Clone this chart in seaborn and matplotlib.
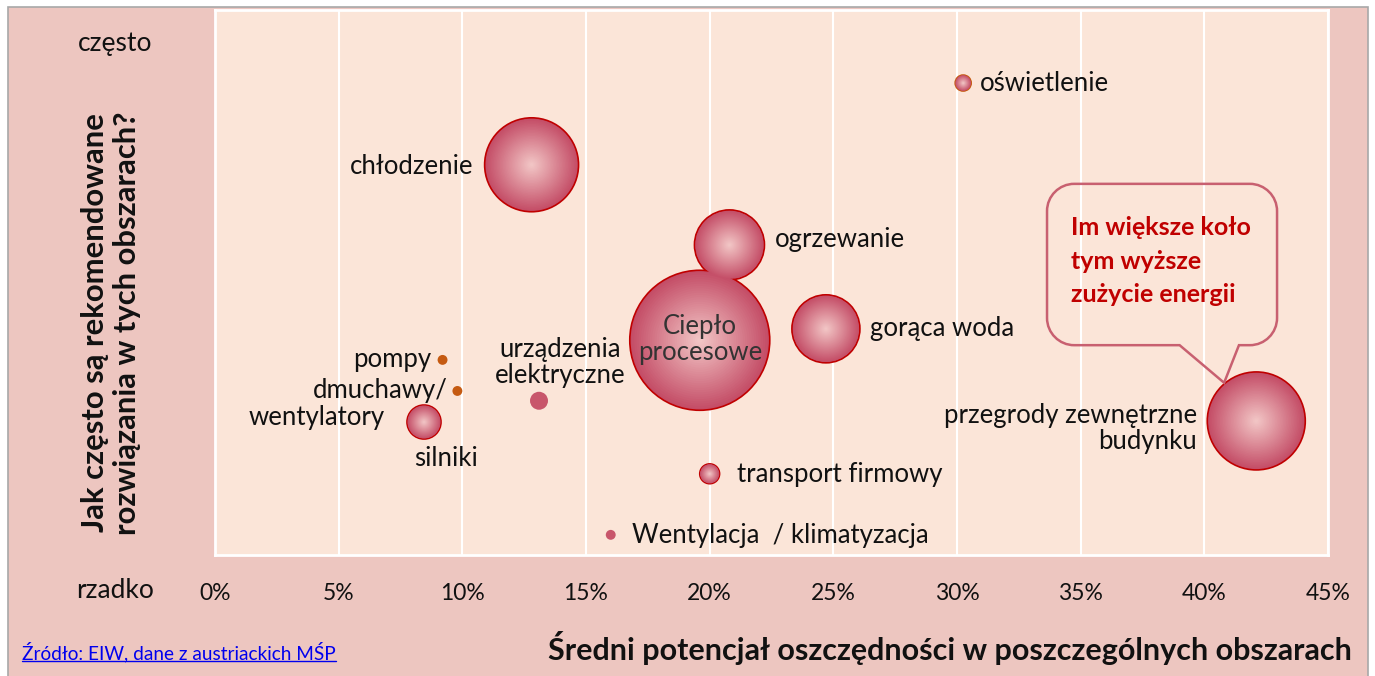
import numpy as np
import matplotlib.pyplot as plt
import seaborn as sns
from matplotlib.patches import Rectangle, PathPatch
from matplotlib.path import Path
from matplotlib.lines import Line2D
from matplotlib.colors import to_rgb

# ── DATA ────────────────────────────────────────────────────
obszary = ["oświetlenie", "chłodzenie", "ogrzewanie", "Ciepło\nprocesowe",
           "gorąca woda", "przegrody zewnętrzne\nbudynku", "pompy",
           "dmuchawy/\nwentylatory", "silniki", "urządzenia\nelektryczne",
           "transport firmowy", "Wentylacja  / klimatyzacja"]
potencjal = [30.25, 12.8, 20.8, 19.6, 24.7, 42.1, 9.2, 9.8, 8.45, 13.1, 20.0, 16.0]   # % oszczędności
czestosc  = [86.6, 71.6, 56.9, 39.4, 41.5, 24.6, 35.8, 30.1, 24.4, 28.3, 14.9, 3.7]   # 0 = rzadko, 100 = często
zuzycie   = [1.3, 45.0, 25.0, 100.0, 23.6, 49.0, 0.5, 0.5, 5.9, 1.65, 2.0, 0.5]      # względne zużycie energii
styl      = ["grad_o", "grad", "grad", "grad", "grad", "grad", "orange",
             "orange", "grad", "flat", "grad", "flat"]

x_ticks = [0, 5, 10, 15, 20, 25, 30, 35, 40, 45]

# ── THEME ──────────────────────────────────────────────────
sns.set_theme(style="white")
plt.rcParams["font.family"] = ["Lato", "DejaVu Sans"]

OUTER   = "#EDC6C0"
INNER   = "#FBE5D8"
RIM     = "#C44C66"
CENTER  = "#F3C9C8"
DARKRED = "#C00000"
ORANGE  = "#C55A11"
TXT     = "#111111"
LAB_FS  = 18.5

W, H = 1375, 676
fig = plt.figure(figsize=(W / 100, H / 100), dpi=100)
fig.patch.set_facecolor("white")
fig.add_artist(Rectangle((8 / W, -0.01), 1360 / W, 1 - 7 / H + 0.01,
                         transform=fig.transFigure, facecolor=OUTER,
                         edgecolor="#A8A8A8", linewidth=1.2, zorder=0))

ax = fig.add_axes([215 / W, 1 - 555 / H, 1113 / W, 545 / H])
ax.set_facecolor(INNER)
ax.set_xlim(0, 45)
ax.set_ylim(0, 100)
ax.set_xticks(x_ticks)
ax.set_xticklabels([f"{t}%" for t in x_ticks], fontsize=16.5, color=TXT)
ax.set_yticks([])
ax.tick_params(axis="x", direction="out", length=7, width=1.5, color="white", pad=13)
ax.grid(axis="x", color="white", linewidth=1.5)
ax.set_axisbelow(True)
for s in ax.spines.values():
    s.set_color("white")
    s.set_linewidth(2)

# bubble area ~ energy use; 100 -> radius 70 px
SMAX = (2 * 70 * 72 / 100) ** 2

p = np.array(potencjal)
c = np.array(czestosc)
z = np.array(zuzycie)
st = np.array(styl)

# flat bubbles
for key, col in [("orange", ORANGE), ("flat", "#C8566B")]:
    m = st == key
    sns.scatterplot(x=p[m], y=c[m], size=z[m], sizes=(0, SMAX), size_norm=(0, 100),
                    color=col, edgecolor="none", legend=False, ax=ax, zorder=3)

# gradient bubbles: rim with edge, then lighter rings toward centre
g = np.isin(st, ["grad", "grad_o"])
edges = [ORANGE if s == "grad_o" else DARKRED for s in st[g]]
rim, cen = np.array(to_rgb(RIM)), np.array(to_rgb(CENTER))
sns.scatterplot(x=p[g], y=c[g], size=z[g], sizes=(0, SMAX), size_norm=(0, 100),
                color=RIM, edgecolor=edges, linewidth=1.2, legend=False, ax=ax, zorder=3)
for f in np.linspace(0.97, 0.04, 30):
    col = cen + (rim - cen) * f
    sns.scatterplot(x=p[g], y=c[g], size=z[g], sizes=(0, SMAX * f * f), size_norm=(0, 100),
                    color=col, edgecolor="none", linewidth=0, legend=False, ax=ax, zorder=3)

# labels: (dx px, dy px, ha)
lab_pos = {
    0: (17, 0, "left"), 1: (-58, -2, "right"), 2: (45, 5, "left"),
    3: (0, 1, "center"), 4: (44, 0, "left"), 5: (-59, -8, "right"),
    6: (-11, 0, "right"), 8: (22, -36, "center"), 9: (21, 38, "center"),
    10: (27, -1, "left"), 11: (21, -1, "left"),
}
for i, (dx, dy, ha) in lab_pos.items():
    ax.annotate(obszary[i], (p[i], c[i]), textcoords="offset pixels",
                xytext=(dx, dy), ha=ha, va="center", fontsize=LAB_FS,
                color="#333333" if i == 3 else TXT,
                linespacing=1.05, zorder=5,
                multialignment="center" if ha == "center" else ha)
# dmuchawy/ wentylatory is broken over two uneven lines
l1, l2 = obszary[7].split("\n")
ax.annotate(l1, (p[7], c[7]), textcoords="offset pixels", xytext=(-10, 0),
            ha="right", va="center", fontsize=LAB_FS, color=TXT, zorder=5)
ax.annotate(l2, (p[7], c[7]), textcoords="offset pixels", xytext=(-73, -27),
            ha="right", va="center", fontsize=LAB_FS, color=TXT, zorder=5)

# speech bubble
x0, x1, y0, y1 = 33.64, 42.94, 38.5, 68.1
rx = 1.1
ry = rx * (1113 / 45) / (545 / 100)
k = 0.5523
bl, br, tip = 39.0, 41.4, (40.8, 31.6)
verts = [(bl, y0), tip, (br, y0), (x1 - rx, y0),
         (x1 - rx + k * rx, y0), (x1, y0 + ry - k * ry), (x1, y0 + ry),
         (x1, y1 - ry),
         (x1, y1 - ry + k * ry), (x1 - rx + k * rx, y1), (x1 - rx, y1),
         (x0 + rx, y1),
         (x0 + rx - k * rx, y1), (x0, y1 - ry + k * ry), (x0, y1 - ry),
         (x0, y0 + ry),
         (x0, y0 + ry - k * ry), (x0 + rx - k * rx, y0), (x0 + rx, y0),
         (bl, y0), (bl, y0)]
codes = ([Path.MOVETO, Path.LINETO, Path.LINETO, Path.LINETO]
         + [Path.CURVE4] * 3 + [Path.LINETO] + [Path.CURVE4] * 3 + [Path.LINETO]
         + [Path.CURVE4] * 3 + [Path.LINETO] + [Path.CURVE4] * 3
         + [Path.LINETO, Path.CLOSEPOLY])
ax.add_patch(PathPatch(Path(verts, codes), facecolor="none", edgecolor="#C86070",
                       linewidth=1.8, zorder=4))
ax.text(34.6, 53.9, "Im większe koło\ntym wyższe\nzużycie energii", ha="left", va="center",
        fontsize=18, fontweight="bold", color=DARKRED, linespacing=1.55, zorder=5)

# axis texts
fig.text(115 / W, 1 - 43 / H, "często", ha="center", va="center", fontsize=19, color=TXT)
fig.text(115 / W, 1 - 590 / H, "rzadko", ha="center", va="center", fontsize=19, color=TXT)
fig.text(111 / W, 1 - 323 / H, "Jak często są rekomendowane\nrozwiązania w tych obszarach?",
         rotation=90, ha="center", va="center", fontsize=22.3, fontweight="bold",
         color=TXT, linespacing=1.15)
fig.text(1352 / W, 1 - 648 / H, "Średni potencjał oszczędności w poszczególnych obszarach",
         ha="right", va="center", fontsize=22, fontweight="bold", color=TXT)

src = fig.text(22 / W, 1 - 652 / H, "Źródło: EIW, dane z austriackich MŚP", ha="left",
               va="center", fontsize=13.7, color="#0000EE")
bb = src.get_window_extent(renderer=fig.canvas.get_renderer())
fig.add_artist(Line2D([bb.x0 / W, bb.x1 / W], [(bb.y0 + 1) / H] * 2,
                      transform=fig.transFigure, color="#0000EE", linewidth=1))

plt.savefig("out.png", dpi=100, facecolor="white")
